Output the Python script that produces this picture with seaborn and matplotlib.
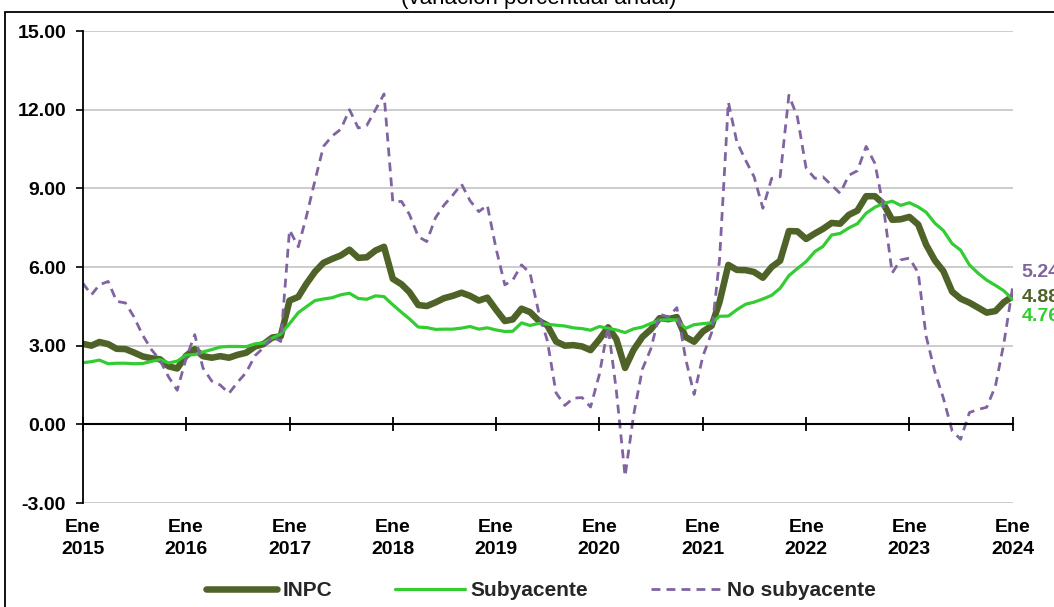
import numpy as np
import pandas as pd
import matplotlib
matplotlib.use("Agg")
import matplotlib.pyplot as plt
import matplotlib.dates as mdates
import matplotlib.transforms as mtransforms
from matplotlib.patches import Rectangle
import seaborn as sns

# --- DATOS: inflación anual (%) ---
meses = pd.date_range("2015-01-01", periods=109, freq="MS")

inpc = [
    3.07, 3.00, 3.14, 3.06, 2.88, 2.87, 2.74, 2.59, 2.52, 2.48, 2.21, 2.13,
    2.61, 2.87, 2.60, 2.54, 2.60, 2.54, 2.65, 2.73, 2.97, 3.06, 3.31, 3.36,
    4.72, 4.86, 5.35, 5.82, 6.16, 6.31, 6.44, 6.66, 6.35, 6.37, 6.63, 6.77,
    5.55, 5.34, 5.04, 4.55, 4.51, 4.65, 4.81, 4.90, 5.02, 4.90, 4.72, 4.83,
    4.37, 3.94, 4.00, 4.41, 4.28, 3.95, 3.78, 3.16, 3.00, 3.02, 2.97, 2.83,
    3.24, 3.70, 3.25, 2.15, 2.84, 3.33, 3.62, 4.05, 4.01, 4.09, 3.33, 3.15,
    3.54, 3.76, 4.67, 6.08, 5.89, 5.88, 5.81, 5.59, 6.00, 6.24, 7.37, 7.36,
    7.07, 7.28, 7.45, 7.68, 7.65, 7.99, 8.15, 8.70, 8.70, 8.41, 7.80, 7.82,
    7.91, 7.62, 6.85, 6.25, 5.84, 5.06, 4.79, 4.64, 4.45, 4.26, 4.32, 4.66,
    4.88,
]

subyacente = [
    2.35, 2.39, 2.45, 2.31, 2.33, 2.33, 2.31, 2.32, 2.40, 2.47, 2.34, 2.41,
    2.64, 2.66, 2.76, 2.85, 2.95, 2.97, 2.97, 2.96, 3.07, 3.10, 3.29, 3.44,
    3.84, 4.26, 4.48, 4.72, 4.78, 4.83, 4.94, 5.00, 4.80, 4.77, 4.90, 4.87,
    4.56, 4.27, 4.02, 3.71, 3.69, 3.62, 3.63, 3.63, 3.67, 3.73, 3.63, 3.68,
    3.60, 3.54, 3.55, 3.87, 3.77, 3.85, 3.82, 3.78, 3.75, 3.68, 3.65, 3.59,
    3.73, 3.66, 3.60, 3.50, 3.64, 3.71, 3.85, 3.97, 3.99, 3.98, 3.66, 3.80,
    3.84, 3.87, 4.12, 4.13, 4.37, 4.58, 4.66, 4.78, 4.92, 5.19, 5.67, 5.94,
    6.21, 6.59, 6.78, 7.22, 7.28, 7.49, 7.65, 8.05, 8.28, 8.42, 8.51, 8.35,
    8.45, 8.29, 8.09, 7.67, 7.39, 6.89, 6.64, 6.08, 5.76, 5.50, 5.30, 5.09,
    4.76,
]

no_subyacente = [
    5.39, 4.94, 5.32, 5.45, 4.69, 4.63, 4.10, 3.40, 2.85, 2.45, 1.80, 1.30,
    2.50, 3.42, 2.15, 1.65, 1.50, 1.18, 1.60, 1.98, 2.62, 2.92, 3.35, 3.16,
    7.41, 6.77, 7.90, 9.30, 10.60, 11.00, 11.25, 12.00, 11.30, 11.40, 12.00, 12.60,
    8.49, 8.50, 8.00, 7.16, 6.97, 7.88, 8.36, 8.74, 9.16, 8.53, 8.11, 8.36,
    6.70, 5.32, 5.50, 6.08, 5.77, 4.26, 3.20, 1.20, 0.72, 1.00, 1.02, 0.66,
    1.90, 3.72, 1.30, -1.98, 0.35, 2.10, 2.88, 4.20, 4.10, 4.45, 2.50, 1.14,
    2.60, 3.50, 6.30, 12.29, 10.77, 10.07, 9.44, 8.24, 9.38, 9.44, 12.55, 11.72,
    9.76, 9.38, 9.44, 9.12, 8.81, 9.50, 9.67, 10.60, 9.95, 8.30, 5.77, 6.27,
    6.34, 5.78, 3.36, 2.00, 1.00, -0.25, -0.57, 0.45, 0.57, 0.65, 1.46, 3.10,
    5.24,
]

anios = list(range(2015, 2025))
y_ticks = [-3, 0, 3, 6, 9, 12, 15]

COLOR_INPC = "#4F6228"
COLOR_SUB = "#33CC33"
COLOR_NOSUB = "#8064A2"

df = pd.DataFrame({
    "mes": meses,
    "INPC": inpc,
    "Subyacente": subyacente,
    "No subyacente": no_subyacente,
})

sns.set_theme(style="white")
plt.rcParams["font.family"] = ["Liberation Sans", "DejaVu Sans"]

fig = plt.figure(figsize=(10.54, 6.07), dpi=100)
ax = fig.add_axes([82.7 / 1054, 1 - 503 / 607, 930 / 1054, 472 / 607])

sns.lineplot(data=df, x="mes", y="INPC", ax=ax, color=COLOR_INPC,
             lw=4.7, label="INPC")
sns.lineplot(data=df, x="mes", y="Subyacente", ax=ax, color=COLOR_SUB,
             lw=2.3, label="Subyacente")
sns.lineplot(data=df, x="mes", y="No subyacente", ax=ax, color=COLOR_NOSUB,
             lw=2.0, linestyle=(0, (3.2, 2.2)), label="No subyacente")

ax.set_xlim(meses[0], meses[-1])
ax.set_ylim(-3, 15)
ax.set_xlabel("")
ax.set_ylabel("")

# eje y
ax.set_yticks(y_ticks)
ax.set_yticklabels([f"{v:.2f}" for v in y_ticks], fontweight="bold", fontsize=14)
ax.tick_params(axis="y", direction="out", length=5, width=1.2, color="black",
               left=True, pad=7, labelcolor="black")
ax.yaxis.grid(True, color="#C8C8C8", lw=1.3)
ax.set_axisbelow(True)

# eje x en cero
for s in ["top", "right"]:
    ax.spines[s].set_visible(False)
ax.spines["left"].set_color("black")
ax.spines["left"].set_linewidth(1.3)
ax.spines["bottom"].set_position(("data", 0))
ax.spines["bottom"].set_color("black")
ax.spines["bottom"].set_linewidth(1.5)

ene = [pd.Timestamp(f"{a}-01-01") for a in anios]
ax.set_xticks(ene)
ax.tick_params(axis="x", direction="inout", length=10, width=1.3, color="black",
               bottom=True, labelbottom=False)

trans = mtransforms.blended_transform_factory(ax.transData, ax.transAxes)
for fecha, a in zip(ene, anios):
    ax.text(mdates.date2num(fecha), -0.034, f"Ene\n{a}", transform=trans,
            ha="center", va="top", fontsize=14, fontweight="bold",
            linespacing=1.38, color="black")

# etiquetas finales
finales = [(no_subyacente[-1], COLOR_NOSUB, 14),
           (inpc[-1], COLOR_INPC, -1),
           (subyacente[-1], COLOR_SUB, -17)]
for val, col, dy in finales:
    ax.annotate(f"{val:.2f}", xy=(meses[-1], val), xytext=(9, dy),
                textcoords="offset pixels", ha="left", va="center",
                fontsize=14, fontweight="bold", color=col,
                annotation_clip=False)

# leyenda
handles, labels = ax.get_legend_handles_labels()
ax.get_legend().remove()
fig.legend(handles, labels, loc="center", ncol=3,
           bbox_to_anchor=(541 / 1054, 1 - 591 / 607),
           frameon=False, handlelength=3.4, handletextpad=0.25,
           columnspacing=3.0, prop={"weight": "bold", "size": 15})

# título (recortado arriba) y marco
fig.text(539 / 1054, 1 - 4 / 607, "(variación porcentual anual)",
         ha="center", va="baseline", fontsize=16, color="black")
fig.patches.append(Rectangle((5 / 1054, -0.1), 2, 1.1 - 12 / 607,
                             transform=fig.transFigure, fill=False,
                             edgecolor="black", lw=1.3))

fig.savefig("out.png", dpi=100)
